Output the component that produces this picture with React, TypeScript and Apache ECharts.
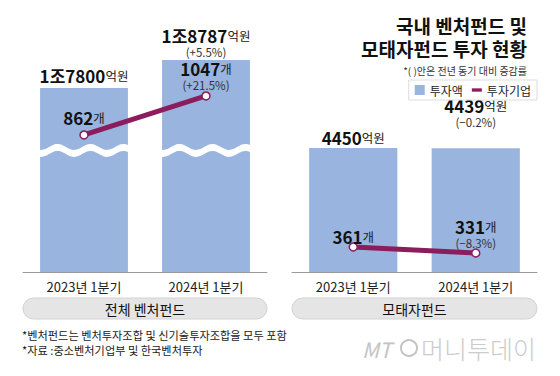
import React, { useEffect, useRef } from "react";
import * as echarts from "echarts";

const FONT = "'Noto Sans CJK KR', 'Noto Sans', sans-serif";
const BAR_COLOR = "#98b4df";
const LINE_COLOR = "#8c1d5d";

const categories = ["2023년 1분기", "2024년 1분기"];
const totalAmount = [17800, 18787]; // 억원
const totalAmountChange = ["", "+5.5%"];
const totalCompanies = [862, 1047]; // 개
const totalCompaniesChange = ["", "+21.5%"];
const motaeAmount = [4450, 4439]; // 억원
const motaeAmountChange = ["", "−0.2%"];
const motaeCompanies = [361, 331]; // 개
const motaeCompaniesChange = ["", "−8.3%"];
const titleLines = ["국내 벤처펀드 및", "모태자펀드 투자 현황"];
const subtitle = "*( )안은 전년 동기 대비 증감률";
const panelTitles = ["전체 벤처펀드", "모태자펀드"];
const footnotes = [
  "*벤처펀드는 벤처투자조합 및 신기술투자조합을 모두 포함",
  "*자료 :중소벤처기업부 및 한국벤처투자",
];
// value of the axis break drawn across the left panel's bars
const totalBreakValue = 15600;

function amountText(v: number): string {
  const jo = Math.floor(v / 10000);
  const eok = v % 10000;
  return jo > 0 ? `${jo}조${eok}` : `${eok}`;
}

function amountLabel(v: number, change: string): string {
  let s = `{n|${amountText(v)}}{u|억원}`;
  if (change) s += `\n{p|(${change})}`;
  return s;
}

function countLabel(v: number, change: string): string {
  let s = `{n|${v}}{u|개}`;
  if (change) s += `\n{p|(${change})}`;
  return s;
}

const rich = {
  n: { fontSize: 17, fontWeight: "bold", color: "#111", fontFamily: FONT, lineHeight: 18, letterSpacing: -1 },
  u: { fontSize: 12.5, color: "#222", fontFamily: FONT, lineHeight: 18 },
  p: { fontSize: 11.5, color: "#333", fontFamily: FONT, lineHeight: 15 },
};

export default function App() {
  const ref = useRef<HTMLDivElement>(null);

  useEffect(() => {
    if (!ref.current) return;
    const chart = echarts.init(ref.current, undefined, { renderer: "svg" });

    const barSeries = (gridIdx: number, yIdx: number, values: number[], changes: string[], distances: number[]) => ({
      name: "투자액",
      type: "bar",
      xAxisIndex: gridIdx,
      yAxisIndex: yIdx,
      barWidth: "72%",
      z: 2,
      itemStyle: { color: BAR_COLOR },
      data: values.map((v, i) => ({
        value: v,
        label: {
          show: true,
          position: "top",
          distance: distances[i],
          formatter: () => amountLabel(v, changes[i]),
          rich,
          align: "center",
        },
      })),
    });

    const lineSeries = (gridIdx: number, yIdx: number, values: number[], changes: string[], distances: number[]) => ({
      name: "투자기업",
      type: "line",
      xAxisIndex: gridIdx,
      yAxisIndex: yIdx,
      z: 5,
      symbol: "circle",
      symbolSize: 8,
      lineStyle: { color: LINE_COLOR, width: 5 },
      itemStyle: { color: "#fff", borderColor: LINE_COLOR, borderWidth: 1.5 },
      data: values.map((v, i) => ({
        value: v,
        label: {
          show: true,
          position: "top",
          distance: distances[i],
          formatter: () => countLabel(v, changes[i]),
          rich,
          align: "center",
        },
      })),
    });

    const waveSeries = {
      name: "break",
      type: "custom",
      xAxisIndex: 0,
      yAxisIndex: 0,
      z: 3,
      silent: true,
      data: categories.map((_, i) => [i, totalBreakValue]),
      encode: { x: 0, y: 1 },
      renderItem: (params: any, api: any) => {
        const p = api.coord([api.value(0), api.value(1)]);
        const w = api.size([1, 0])[0] * 0.72 + 2;
        const x0 = p[0] - w / 2;
        const top: number[][] = [];
        const bot: number[][] = [];
        const n = 60;
        for (let i = 0; i <= n; i++) {
          const x = x0 + (w * i) / n;
          const s = 3 * Math.sin(((x - x0) / 33) * 2 * Math.PI + 1.2);
          top.push([x, p[1] - 3.5 + s]);
          bot.unshift([x, p[1] + 3.5 + s]);
        }
        return {
          type: "polygon",
          shape: { points: top.concat(bot) },
          style: { fill: "#fff" },
        };
      },
    };

    const xAxis = [0, 1].map((i) => ({
      gridIndex: i,
      type: "category",
      data: categories,
      axisLine: { lineStyle: { color: "#9a9a9a", width: 1 } },
      axisTick: { inside: true, length: 4, lineStyle: { color: "#9a9a9a" } },
      axisLabel: { margin: 8, fontSize: 13, color: "#222", fontFamily: FONT },
    }));

    const pill = (x: number, w: number, label: string) => [
      {
        type: "rect",
        shape: { x, y: 298, width: w, height: 21, r: 10.5 },
        style: { fill: "#e5e5e5", stroke: "#d2d2d2", lineWidth: 1 },
      },
      {
        type: "text",
        x: x + w / 2,
        y: 308.5,
        style: {
          text: label,
          fontSize: 14,
          fontFamily: FONT,
          fill: "#111",
          align: "center",
          verticalAlign: "middle",
        },
      },
    ];

    chart.setOption({
      animation: false,
      textStyle: { fontFamily: FONT },
      legend: {
        right: 23,
        top: 80,
        orient: "horizontal",
        borderColor: "#dddddd",
        borderWidth: 1,
        padding: [3, 6],
        itemWidth: 10,
        itemHeight: 10,
        itemGap: 9,
        textStyle: { fontSize: 12, color: "#222", fontFamily: FONT, lineHeight: 14 },
        data: [
          { name: "투자액", icon: "rect", itemStyle: { color: BAR_COLOR } },
          {
            name: "투자기업",
            icon: "path://M0,0h12v4h-12z",
            itemStyle: { color: LINE_COLOR, borderWidth: 0 },
          },
        ],
      },
      grid: [
        { left: 23, width: 244, top: 40, bottom: 104 },
        { left: 292, width: 245, top: 40, bottom: 104 },
      ],
      xAxis,
      yAxis: [
        { gridIndex: 0, min: 11314, max: 19492, show: false },
        { gridIndex: 0, min: 212, max: 1312.5, show: false },
        { gridIndex: 1, min: 0, max: 8326, show: false },
        { gridIndex: 1, min: 236, max: 1396, show: false },
      ],
      series: [
        barSeries(0, 0, totalAmount, totalAmountChange, [3.5, 0.5]),
        waveSeries,
        lineSeries(0, 1, totalCompanies, totalCompaniesChange, [3.5, -1.5]),
        barSeries(1, 2, motaeAmount, motaeAmountChange, [1.5, 18.5]),
        lineSeries(1, 3, motaeCompanies, motaeCompaniesChange, [-3.5, -2]),
      ],
      graphic: [
        ...titleLines.map((t, i) => ({
          type: "text",
          x: 527,
          y: 25 + i * 23,
          style: {
            text: t,
            fontSize: 19,
            fontWeight: "bold",
            fontFamily: FONT,
            fill: "#111",
            align: "right",
            verticalAlign: "middle",
          },
        })),
        {
          type: "text",
          x: 527,
          y: 70,
          style: {
            text: subtitle,
            fontSize: 10,
            fontFamily: FONT,
            fill: "#333",
            align: "right",
            verticalAlign: "middle",
          },
        },
        ...pill(23, 244, panelTitles[0]),
        ...pill(292, 245, panelTitles[1]),
        ...footnotes.map((t, i) => ({
          type: "text",
          x: 22,
          y: 335 + i * 15,
          style: { text: t, fontSize: 11.2, fontFamily: FONT, fill: "#222", verticalAlign: "middle" },
        })),
        {
          type: "text",
          x: 362,
          y: 349,
          style: {
            text: "MT",
            fontSize: 21,
            fontStyle: "italic",
            fontFamily: FONT,
            fill: "#c4c4c4",
            verticalAlign: "middle",
          },
        },
        {
          type: "circle",
          shape: { cx: 409, cy: 348, r: 8 },
          style: { fill: "none", stroke: "#c4c4c4", lineWidth: 2 },
        },
        {
          type: "text",
          x: 421,
          y: 348,
          style: {
            text: "머니투데이",
            fontSize: 25,
            fontWeight: 300,
            fontFamily: FONT,
            fill: "#cccccc",
            verticalAlign: "middle",
          },
        },
      ],
    });

    return () => chart.dispose();
  }, []);

  return (
    <div
      ref={ref}
      style={{ position: "fixed", left: 0, top: 0, width: 560, height: 376, background: "#fff" }}
    />
  );
}
